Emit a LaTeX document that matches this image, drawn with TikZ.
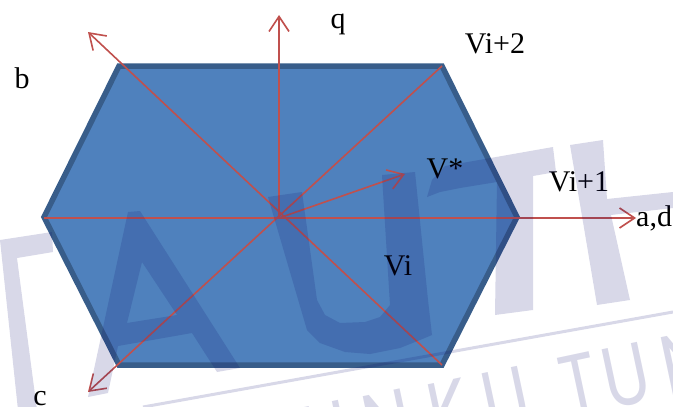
\documentclass[tikz,border=0pt]{standalone}
\usepackage{fontspec}
\setmainfont{Liberation Serif}
\newfontfamily\wmfont[FakeStretch=0.8]{Poppins}
\usetikzlibrary{arrows.meta}
\definecolor{hexfill}{RGB}{79,129,189}
\definecolor{hexedge}{RGB}{56,93,138}
\definecolor{axred}{RGB}{192,80,77}
\definecolor{wmcol}{RGB}{12,12,110}
\begin{document}
\begin{tikzpicture}[x=1pt,y=-1pt,
  hexagon/.style={fill=hexfill, draw=hexedge, line width=5.5pt, line join=miter},
  axis/.style={draw=axred, line width=1.6pt, -{Straight Barb[length=15pt,width=20pt]}},
  lbl/.style={inner sep=0pt, font=\fontsize{30}{36}\selectfont, anchor=base},
  wm/.style={fill=wmcol, fill opacity=0.16, draw=none},
  wmline/.style={draw=wmcol, draw opacity=0.16, line width=3pt},
  wmtext/.style={text=wmcol, text opacity=0.16, inner sep=0pt,
    font=\wmfont\fontsize{86}{90}\selectfont, rotate=12, anchor=north}
]
\useasboundingbox (0,0) rectangle (673,407);

% hexagon vertices
\coordinate (L)  at (44,217);
\coordinate (TL) at (119,66);
\coordinate (TR) at (442,66);
\coordinate (R)  at (517,217);
\coordinate (BR) at (442,365);
\coordinate (BL) at (119,365);
\draw[hexagon] (L) -- (TL) -- (TR) -- (R) -- (BR) -- (BL) -- cycle;

% axis points
\coordinate (O)  at (279,218);
\coordinate (Lh) at (44,218);
\coordinate (ad) at (636,218);
\coordinate (qt) at (279,15);
\coordinate (bt) at (88,32);
\coordinate (ct) at (88,392);
\coordinate (vs) at (405,174);

\draw[axis] (Lh) -- (ad);
\draw[axis] (O) -- (qt);
\draw[axis] (BR) -- (bt);
\draw[axis] (TR) -- (ct);
\draw[axis] (O) -- (vs);

% labels
\node[lbl] (lq)   at (338,28)  {q};
\node[lbl] (lvi2) at (495,53)  {Vi+2};
\node[lbl] (lb)   at (22,88)   {b};
\node[lbl] (lvs)  at (445,178) {V*};
\node[lbl] (lvi1) at (579,191) {Vi+1};
\node[lbl, anchor=base west] (lad) at (636,226) {a,d};
\node[lbl] (lvi)  at (398,275) {Vi};
\node[lbl] (lc)   at (40,405)  {c};

% watermark
\fill[wm] (0,240) -- (52,232) -- (53,252) -- (17,258) -- (37,410) -- (18,410) -- cycle;
\fill[wm, even odd rule] (128,212) -- (140,211) -- (240,368) -- (217,372) -- (192,333)
  -- (118,346) -- (108,393) -- (88,397) -- cycle
  (142,262) -- (177,315) -- (127,323) -- cycle;
\fill[wm] (268,197) -- (302,192) -- (317,300) -- (325,315) -- (340,323) -- (365,322)
  -- (380,317) -- (390,305) -- (382,175) -- (415,172) -- (428,300) -- (432,335)
  -- (420,340) -- (400,348) -- (370,354) -- (345,352) -- (320,343) -- (307,330) -- cycle;
\fill[wm] (427,197) -- (432,180) -- (445,166) -- (553,147) -- (556,172) -- (533,176)
  -- (533,310) -- (495,315) -- (497,182) -- (460,188) -- (440,192) -- cycle;
\fill[wm] (570,145) -- (603,140) -- (607,199) -- (673,192) -- (673,208) -- (611,215)
  -- (630,300) -- (597,305) -- cycle;
\coordinate (wl1) at (143,407);
\coordinate (wl2) at (673,312);
\draw[wmline] (wl1) -- (wl2);
\node[wmtext] (w1) at (263,416) {T};
\node[wmtext] (w2) at (321,404) {U};
\node[wmtext] (w3) at (382,393) {N};
\node[wmtext] (w4) at (443,381) {K};
\node[wmtext] (w5) at (500,370) {U};
\node[wmtext] (w6) at (573,355) {T};
\node[wmtext] (w7) at (620,346) {U};
\node[wmtext] (w8) at (680,334) {N};
\end{tikzpicture}
\end{document}
